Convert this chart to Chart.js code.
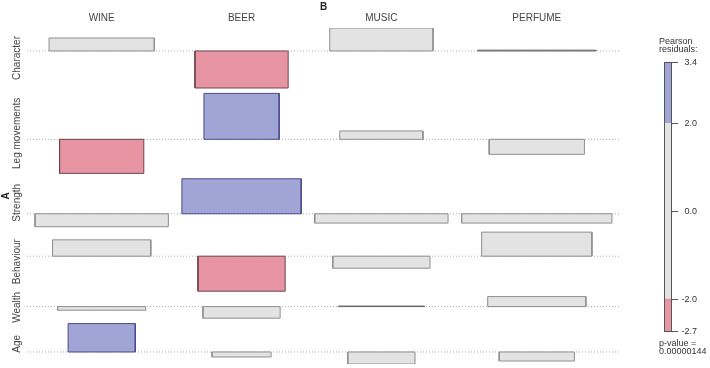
<!DOCTYPE html>
<html>
<head>
<meta charset="utf-8">
<script src="https://cdn.jsdelivr.net/npm/chart.js@4.4.1/dist/chart.umd.min.js"></script>
<style>
  html, body { margin: 0; padding: 0; background: #fff; }
  #wrap { position: relative; width: 710px; height: 368px; }
</style>
</head>
<body>
<div id="wrap"><canvas id="assoc"></canvas></div>
<script>
const rowLabels = ['Character', 'Leg movements', 'Strength', 'Behaviour', 'Wealth', 'Age'];
const colLabels = ['WINE', 'BEER', 'MUSIC', 'PERFUME'];

// pearson residuals, one array per column, rows in rowLabels order
const residWine    = [0.96, -2.52, -0.96, 1.21, -0.27, 2.10];
const residBeer    = [-2.74, 3.40, 2.59, -2.59, -0.86, -0.37];
const residMusic   = [1.70, 0.62, -0.69, -0.89, 0.04, -0.89];
const residPerfume = [0.06, -1.11, -0.69, 1.78, 0.74, -0.67];

// expected frequencies (bar width ~ sqrt of these)
const expWine    = [110.3, 70.6, 176.9, 96.0, 77.4, 44.9];
const expBeer    = [86.5, 56.3, 141.6, 75.7, 59.3, 34.8];
const expMusic   = [106.1, 68.9, 176.9, 94.1, 74.0, 44.9];
const expPerfume = [139.2, 90.3, 225.0, 121.0, 96.0, 56.3];

const legendTicks = [3.4, 2.0, 0.0, -2.0, -2.7];
const pValue = '0.00000144';

const resid = [residWine, residBeer, residMusic, residPerfume];
const expd = [expWine, expBeer, expMusic, expPerfume];

const colGap = 1.35, rowGap = 0.4, lineExt = 0.8;

// columns as wide as the widest bar in them
const colW = expd.map(c => Math.max(...c.map(Math.sqrt)));
const colCenter = [];
let xAcc = 0;
colW.forEach(w => { colCenter.push(xAcc + w / 2); xAcc += w + colGap; });
const xTotal = xAcc - colGap;

// rows: room above baseline for biggest positive residual, below for biggest negative
const rowUp = rowLabels.map((_, i) => Math.max(0, ...resid.map(c => c[i])));
const rowDown = rowLabels.map((_, i) => Math.max(0, ...resid.map(c => -c[i])));
const rowBase = [], rowMid = [];
let yAcc = 0;
rowLabels.forEach((_, i) => {
  rowBase.push(yAcc + rowUp[i]);
  rowMid.push(yAcc + (rowUp[i] + rowDown[i]) / 2);
  yAcc += rowUp[i] + rowDown[i] + rowGap;
});
const yTotal = yAcc - rowGap;

const allRes = resid.flat();
const resMax = Math.max(...allRes), resMin = Math.min(...allRes);

const BLUE = '#a0a5d5', RED = '#e895a3', GREY = '#e3e3e3';
function shade(r) {
  if (r > 2) return {fill: BLUE, line: '#474c8c'};
  if (r < -2) return {fill: RED, line: '#6e4450'};
  if (Math.abs(r) < 0.1) return {fill: GREY, line: '#666666'};
  return {fill: GREY, line: '#8f8f8f'};
}

const datasets = [];
rowBase.forEach(b => {
  datasets.push({
    data: [{x: -lineExt, y: b}, {x: xTotal + lineExt, y: b}],
    borderColor: '#aaaaaa', borderWidth: 1, borderDash: [1, 2],
    pointRadius: 0, fill: false, order: 2
  });
});
resid.forEach((col, j) => {
  col.forEach((r, i) => {
    const half = Math.sqrt(expd[j][i]) / 2;
    const x0 = colCenter[j] - half, x1 = colCenter[j] + half;
    const y0 = rowBase[i], y1 = rowBase[i] - r;
    const s = shade(r);
    datasets.push({
      data: [{x: x0, y: y0}, {x: x0, y: y1}, {x: x1, y: y1}, {x: x1, y: y0}, {x: x0, y: y0}],
      borderColor: s.line, backgroundColor: s.fill, borderWidth: 1,
      pointRadius: 0, fill: 'shape', order: 1
    });
  });
});

const FONT = '"Liberation Sans", Arial, sans-serif';

const assocText = {
  id: 'assocText',
  afterDraw(chart) {
    const ctx = chart.ctx;
    const ys = chart.scales.y;
    ctx.save();
    // row labels
    ctx.fillStyle = '#444';
    ctx.font = '10px ' + FONT;
    ctx.textAlign = 'center';
    ctx.textBaseline = 'middle';
    rowLabels.forEach((lab, i) => {
      ctx.save();
      ctx.translate(17, ys.getPixelForValue(rowMid[i]));
      ctx.rotate(-Math.PI / 2);
      ctx.fillText(lab, 0, 0);
      ctx.restore();
    });

    // residual colour key
    const top = 62, bot = 331, bx = 664, bw = 8;
    const py = v => top + (resMax - v) / (resMax - resMin) * (bot - top);
    ctx.fillStyle = BLUE;
    ctx.fillRect(bx, py(resMax), bw, py(2) - py(resMax));
    ctx.fillStyle = GREY;
    ctx.fillRect(bx, py(2), bw, py(-2) - py(2));
    ctx.fillStyle = RED;
    ctx.fillRect(bx, py(-2), bw, py(resMin) - py(-2));
    ctx.strokeStyle = '#555';
    ctx.lineWidth = 1;
    ctx.strokeRect(bx + 0.5, top + 0.5, bw - 1, bot - top);

    ctx.font = '9px ' + FONT;
    ctx.fillStyle = '#333';
    ctx.textAlign = 'right';
    legendTicks.forEach((t, k) => {
      const v = k === 0 ? resMax : (k === legendTicks.length - 1 ? resMin : t);
      const y = Math.round(py(v)) + 0.5;
      ctx.beginPath();
      ctx.moveTo(bx + bw, y);
      ctx.lineTo(bx + bw + 6, y);
      ctx.stroke();
      ctx.fillText(t.toFixed(1), 697, y);
    });

    ctx.textAlign = 'left';
    ctx.fillText('Pearson', 659, 42);
    ctx.fillText('residuals:', 659, 50);
    ctx.fillText('p-value =', 659, 344);
    ctx.fillText(pValue, 659, 352);
    ctx.restore();
  }
};

new Chart(document.getElementById('assoc'), {
  type: 'line',
  data: { datasets: datasets },
  options: {
    responsive: true,
    maintainAspectRatio: false,
    animation: false,
    layout: { padding: { left: 0, top: 0, right: 90, bottom: 4 } },
    scales: {
      x: {
        type: 'linear',
        position: 'top',
        min: -lineExt,
        max: xTotal + lineExt,
        grid: { display: false, drawTicks: false },
        border: { display: false },
        afterBuildTicks: s => { s.ticks = colCenter.map(v => ({ value: v })); },
        afterFit: s => { s.height = 28; },
        ticks: {
          autoSkip: false,
          maxRotation: 0,
          padding: 4,
          color: '#444',
          font: { size: 10, family: FONT },
          callback: (v, i) => colLabels[i]
        },
        title: {
          display: true,
          text: 'B',
          color: '#222',
          padding: { top: 1, bottom: 0 },
          font: { size: 10, weight: 'bold', family: FONT }
        }
      },
      y: {
        type: 'linear',
        reverse: true,
        min: 0,
        max: yTotal,
        grid: { display: false, drawTicks: false },
        border: { display: false },
        ticks: { display: false },
        afterFit: s => { s.width = 27; },
        title: {
          display: true,
          text: 'A',
          color: '#222',
          padding: 0,
          font: { size: 10, weight: 'bold', family: FONT }
        }
      }
    },
    plugins: {
      legend: { display: false },
      tooltip: { enabled: false }
    }
  },
  plugins: [assocText]
});
</script>
</body>
</html>
